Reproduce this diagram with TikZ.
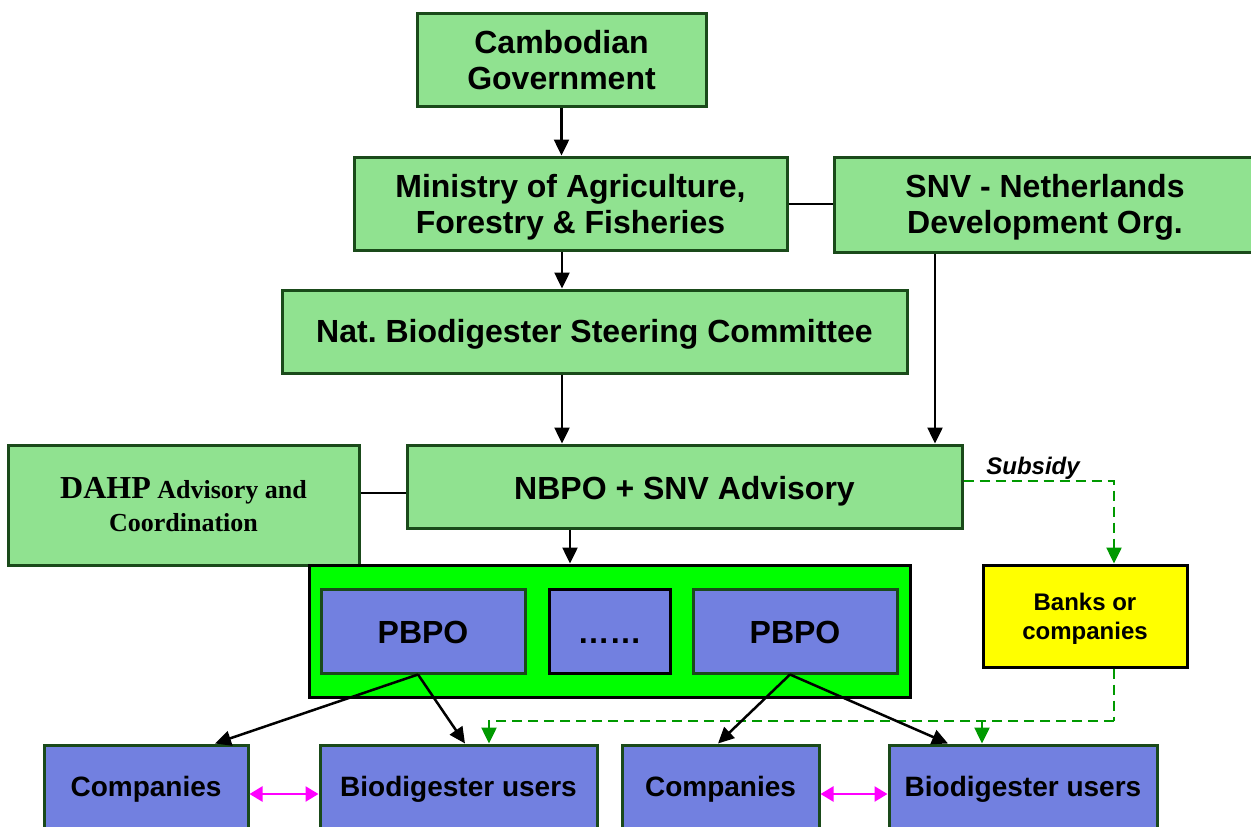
\documentclass[tikz,border=0pt]{standalone}
\usepackage{fontspec}
\setmainfont{Liberation Sans}
\newfontfamily\serifrm{Liberation Serif}
\usetikzlibrary{arrows.meta}
\definecolor{lgreen}{HTML}{90E290}
\definecolor{bdgreen}{HTML}{1A4A1A}
\definecolor{pblue}{HTML}{7280E0}
\definecolor{bgreen}{HTML}{00FF00}
\definecolor{dgreen}{HTML}{009900}
\definecolor{yel}{HTML}{FFFF00}
\definecolor{mag}{HTML}{FF00FF}
\newcommand\dn[2][3pt]{\raisebox{-#1}[\height][\depth]{#2}}
\tikzset{
  box/.style={draw=bdgreen, line width=3pt, inner sep=0pt, align=center, font=\fontsize{32}{36}\selectfont\bfseries},
  gbox/.style={box, fill=lgreen},
  bbox/.style={box, fill=pblue},
  arr/.style={line width=2.5pt, -{Triangle[length=16pt,width=15pt]}},
  plain/.style={line width=2pt},
  gdash/.style={draw=dgreen, line width=2.5pt, dash pattern=on 10pt off 6pt},
  garr/.style={gdash, -{Triangle[length=16pt,width=15pt,fill=dgreen]}},
  marr/.style={draw=mag, line width=2.5pt, {Triangle[length=13pt,width=15pt]}-{Triangle[length=13pt,width=15pt]}}
}
\begin{document}
\begin{tikzpicture}[x=1pt,y=-1pt]
\useasboundingbox[fill=white] (0,0) rectangle (1251,827);
% nodes
\node[gbox, minimum width=289pt, minimum height=93pt] (gov) at (561.5,59.5) {\dn[1pt]{Cambodian}\\\dn[1pt]{Government}};
\node[gbox, minimum width=433pt, minimum height=93pt] (min) at (570.5,203.5) {\dn[4pt]{Ministry of Agriculture,}\\\dn[4pt]{Forestry \& Fisheries}};
\node[gbox, minimum width=422pt, minimum height=95pt] (snv) at (1045,204.5) {\dn{SNV - Netherlands}\\\dn{Development Org.}};
\node[gbox, minimum width=625pt, minimum height=83pt] (nbsc) at (594.5,331.5) {\dn{Nat.\ Biodigester Steering Committee}};
\node[gbox, minimum width=351pt, minimum height=120pt, font=\serifrm\bfseries\fontsize{26}{33}\selectfont] (dahp) at (183.5,505)
  {{\fontsize{32}{33}\selectfont DAHP} Advisory and\\Coordination};
\node[gbox, minimum width=555pt, minimum height=83pt] (nbpo) at (684.5,486.5) {\dn[5pt]{NBPO + SNV Advisory}};
\node[box, draw=black, fill=bgreen, minimum width=601pt, minimum height=132pt] (pgroup) at (609.5,631) {};
\node[bbox, minimum width=204pt, minimum height=84pt] (p1) at (423,631) {\dn[1pt]{PBPO}};
\node[bbox, draw=black, minimum width=121pt, minimum height=84pt] (dots) at (609.5,631) {\dn[1pt]{\vphantom{PBPO}……}};
\node[bbox, minimum width=204pt, minimum height=84pt] (p2) at (795,631) {\dn[1pt]{PBPO}};
\node[box, draw=black, fill=yel, minimum width=204pt, minimum height=102pt, font=\fontsize{24}{29}\selectfont\bfseries] (banks) at (1085,616) {\dn{Banks or}\\\dn{companies}};
\node[bbox, minimum width=204pt, minimum height=84pt, font=\fontsize{28}{32}\selectfont\bfseries] (c1) at (146,787) {\dn[2pt]{Companies}};
\node[bbox, minimum width=277pt, minimum height=84pt, font=\fontsize{28}{32}\selectfont\bfseries] (u1) at (458.5,787) {\dn[2pt]{Biodigester users}};
\node[bbox, minimum width=197pt, minimum height=84pt, font=\fontsize{28}{32}\selectfont\bfseries] (c2) at (720.5,787) {\dn[2pt]{Companies}};
\node[bbox, minimum width=268pt, minimum height=84pt, font=\fontsize{28}{32}\selectfont\bfseries] (u2) at (1023,787) {\dn[2pt]{Biodigester users}};
\node[font=\fontsize{24}{28}\selectfont\bfseries\itshape] (sub) at (1033,468) {Subsidy};
% connectors
\draw[arr] (gov.south) -- (gov.south |- min.north);
\draw[arr] ([xshift=-8.5pt]min.south) -- ([xshift=-8.5pt]min.south |- nbsc.north);
\draw[plain] (min.east) -- (min.east -| snv.west);
\draw[arr] ([xshift=-32.5pt]nbsc.south) -- ([xshift=-32.5pt]nbsc.south |- nbpo.north);
\draw[arr] ([xshift=-110pt]snv.south) -- ([xshift=-110pt]snv.south |- nbpo.north);
\draw[plain] ([yshift=-6.5pt]nbpo.west) -- ([yshift=-6.5pt]nbpo.west -| dahp.east);
\draw[arr] ([xshift=-114.5pt]nbpo.south) -- ([xshift=-39.5pt]pgroup.north);
% subsidy
\draw[garr] ([yshift=5.5pt]nbpo.east) -| ([xshift=29pt]banks.north);
\coordinate (gj) at (1114,721);
\coordinate (u2t) at ([xshift=-41pt]u2.north);
\draw[gdash] ([xshift=29pt]banks.south) -- (gj);
\draw[garr] (gj) -| ([xshift=30.5pt]u1.north);
\draw[garr] (gj -| u2t) -- (u2t);
% PBPO arrows
\draw[arr] ([xshift=-5pt]p1.south) -- ([xshift=69pt]c1.north);
\draw[arr] ([xshift=-5pt]p1.south) -- ([xshift=6.5pt]u1.north);
\draw[arr] ([xshift=-5pt]p2.south) -- ([xshift=-2.5pt]c2.north);
\draw[arr] ([xshift=-5pt]p2.south) -- ([xshift=-75pt]u2.north);
% magenta
\draw[marr] ([yshift=-7pt]c1.east) -- ([yshift=-7pt]c1.east -| u1.west);
\draw[marr] ([yshift=-7pt]c2.east) -- ([yshift=-7pt]c2.east -| u2.west);
\end{tikzpicture}
\end{document}
